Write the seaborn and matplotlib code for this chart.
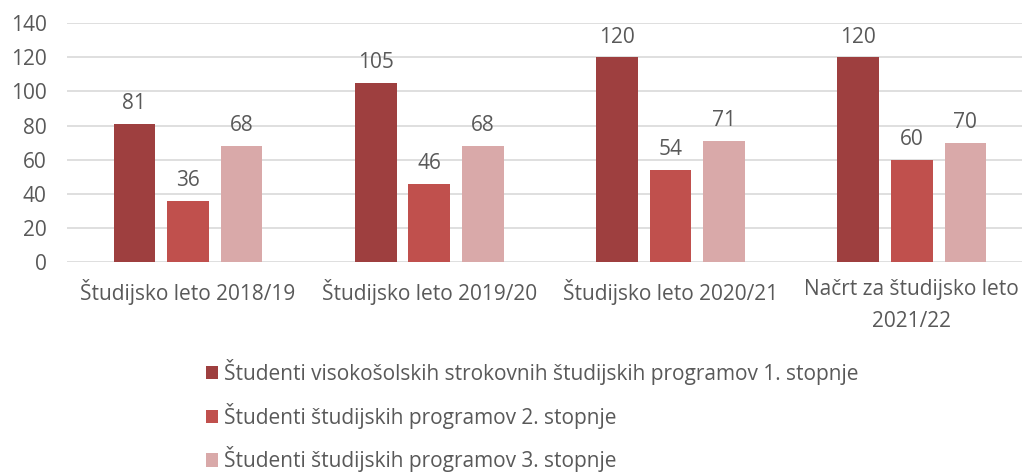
import matplotlib
matplotlib.use("Agg")
import matplotlib.pyplot as plt
import seaborn as sns
import pandas as pd

categories = ["Študijsko leto 2018/19", "Študijsko leto 2019/20",
              "Študijsko leto 2020/21", "Načrt za študijsko leto\n2021/22"]
series_names = ["Študenti visokošolskih strokovnih študijskih programov 1. stopnje",
                "Študenti študijskih programov 2. stopnje",
                "Študenti študijskih programov 3. stopnje"]
values_1 = [81, 105, 120, 120]
values_2 = [36, 46, 54, 60]
values_3 = [68, 68, 71, 70]
colors = ["#9E3F3F", "#C0504D", "#D9A9A9"]
yticks = [0, 20, 40, 60, 80, 100, 120, 140]

rows = []
for name, vals in zip(series_names, [values_1, values_2, values_3]):
    for c, v in zip(categories, vals):
        rows.append({"cat": c, "series": name, "value": v})
df = pd.DataFrame(rows)

sns.set_theme(style="white")
plt.rcParams['font.family'] = ['Open Sans', 'DejaVu Sans']
txt = "#595959"
fs = 15

fig = plt.figure(figsize=(10.22, 4.75), dpi=100)
ax = fig.add_axes([0.0659, 0.448, 0.934, 0.5032])
sns.barplot(data=df, x="cat", y="value", hue="series", palette=colors,
            width=0.666, gap=0.22, ax=ax, legend=False, saturation=1,
            edgecolor="none", linewidth=0)

for cont in ax.containers:
    ax.bar_label(cont, padding=7, fontsize=fs, color=txt)

ax.set_ylim(0, 140)
ax.set_yticks(yticks)
ax.set_xlim(-0.5, 3.456)
ax.yaxis.grid(True, color="#D9D9D9", linewidth=1.2)
ax.set_axisbelow(True)
for s in ax.spines.values():
    s.set_visible(False)
ax.set_xlabel("")
ax.set_ylabel("")
ax.tick_params(axis="both", length=0, labelsize=fs, colors=txt)
ax.tick_params(axis="x", pad=12)
ax.tick_params(axis="y", pad=15)
for lab in ax.get_xticklabels():
    lab.set_linespacing(1.7)

from matplotlib.patches import Patch
handles = [Patch(facecolor=c, edgecolor="none") for c in colors]
fig.legend(handles, series_names, loc="upper left", bbox_to_anchor=(0.193, 0.262),
           frameon=False, fontsize=fs, labelcolor=txt, handlelength=0.6,
           handleheight=0.6, handletextpad=0.3, labelspacing=0.85, borderaxespad=0)

fig.savefig("out.png", dpi=100)
